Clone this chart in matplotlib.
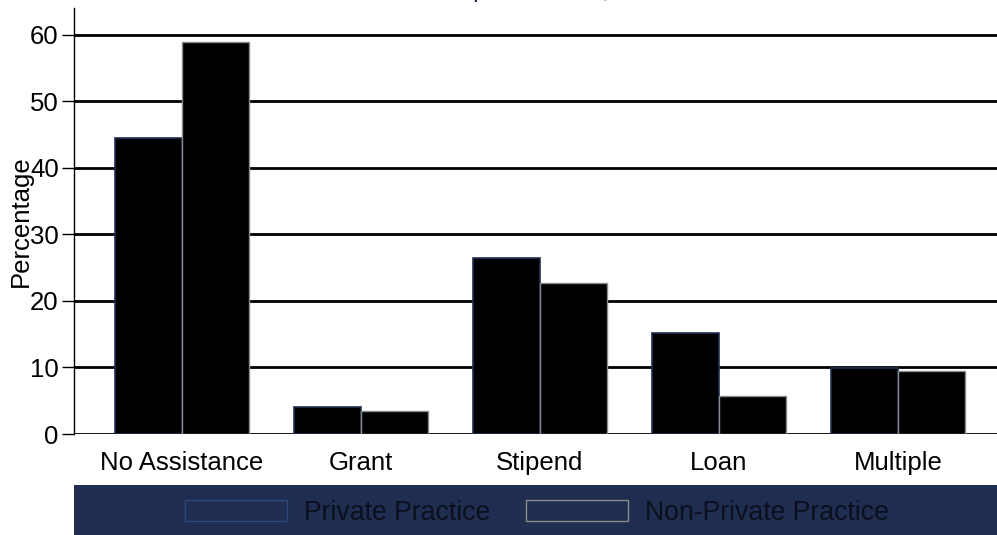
import matplotlib
matplotlib.use("Agg")
import matplotlib.pyplot as plt
from matplotlib.patches import Rectangle, Patch
import numpy as np

categories = ["No Assistance", "Grant", "Stipend", "Loan", "Multiple"]
private_practice = [44.5, 4.1, 26.5, 15.2, 9.9]
non_private_practice = [59.0, 3.5, 22.7, 5.7, 9.5]
series_labels = ["Private Practice", "Non-Private Practice"]
y_ticks = [0, 10, 20, 30, 40, 50, 60]

plt.rcParams['font.family'] = ['Liberation Sans', 'DejaVu Sans']
FS = 18.5

W, H = 997, 535
fig = plt.figure(figsize=(W / 100, H / 100), dpi=100)
ax = fig.add_axes([74 / W, (H - 434) / H, (W - 74) / W, (434 - 8) / H])

x = np.arange(len(categories))
bw = 0.374
ax.bar(x - bw / 2, private_practice, width=bw, color='black', edgecolor='#1f2d50', linewidth=1.2, zorder=3)
ax.bar(x + bw / 2, non_private_practice, width=bw, color='black', edgecolor='#8a8a8a', linewidth=1.0, zorder=3)

for t in y_ticks:
    ax.axhline(t, color='black', linewidth=2.0, zorder=1)

ax.set_xlim(-0.603, 4.553)
ax.set_ylim(0, 64.06)
ax.set_yticks(y_ticks)
ax.set_yticklabels([str(t) for t in y_ticks], fontsize=FS)
ax.set_xticks(x)
ax.set_xticklabels(categories, fontsize=FS)
ax.tick_params(axis='x', length=0, pad=12)
ax.tick_params(axis='y', length=9, width=1, pad=2)
for s in ['top', 'right', 'bottom']:
    ax.spines[s].set_visible(False)
ax.spines['left'].set_linewidth(1)

ax.set_ylabel("Percentage", fontsize=FS)
ax.yaxis.set_label_coords((33 - 74) / (W - 74), 0.5)

# partially visible title at top (cut off as in the reference)
fig.text(0.5, 1.0 + 3 / H, "Financial Help Received, 2019", ha='center', va='baseline',
         fontsize=FS, color='#1f2d50')

# legend band
fig.patches.append(Rectangle((74 / W, 0), (W - 74) / W, 50 / H, transform=fig.transFigure,
                             facecolor='#1f2d50', edgecolor='none', zorder=0))
handles = [Patch(facecolor='#1f2d50', edgecolor='#2c4a7c', linewidth=1),
           Patch(facecolor='#1f2d50', edgecolor='#8a8a8a', linewidth=1)]
leg = fig.legend(handles, series_labels, loc='center', bbox_to_anchor=(537 / W, 22 / H), ncol=2,
                 frameon=False, fontsize=19.2, handlelength=3.8, handleheight=0.83,
                 handletextpad=0.65, columnspacing=1.35, labelcolor='#0b0f1e')

fig.savefig("out.png", dpi=100)
